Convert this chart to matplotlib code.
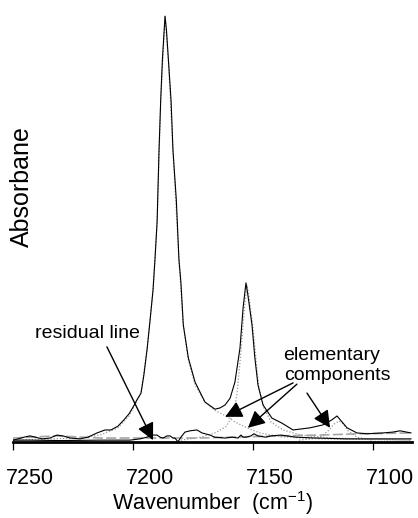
# NIR absorbance spectrum with fitted elementary components and the residual line.
import matplotlib
matplotlib.use("Agg")
import matplotlib.pyplot as plt
from matplotlib.transforms import ScaledTranslation

plt.rcParams["font.family"] = ["Liberation Sans", "DejaVu Sans"]
plt.rcParams["mathtext.default"] = "regular"

# measured spectrum (wavenumber cm-1, absorbance a.u.)
wn = [7250.0, 7247.9, 7245.4, 7242.9, 7240.8, 7237.9, 7234.6, 7231.7, 7229.2, 7226.3,
      7222.1, 7218.8, 7215.0, 7211.7, 7209.2, 7206.3, 7203.8, 7201.7, 7200.0, 7198.4,
      7196.7, 7195.5, 7194.2, 7193.0, 7191.7, 7190.9, 7190.0, 7189.2, 7188.5, 7187.8,
      7187.1, 7186.7, 7186.1, 7185.3, 7184.2, 7183.4, 7182.0, 7180.9, 7180.1, 7179.1,
      7177.0, 7174.2, 7170.1, 7165.9, 7163.8, 7161.7, 7159.6, 7157.6, 7155.5, 7154.2,
      7153.0, 7152.2, 7150.5, 7149.3, 7148.0, 7145.9, 7142.2, 7138.0, 7133.4, 7126.4,
      7120.9, 7117.2, 7115.1, 7113.0, 7110.9, 7106.8, 7102.6, 7096.0, 7091.8, 7088.9,
      7084.3]
absorb = [0.002, 0.005, 0.009, 0.012, 0.009, 0.005, 0.007, 0.014, 0.012, 0.007,
          0.005, 0.009, 0.019, 0.026, 0.026, 0.035, 0.050, 0.064, 0.080, 0.097,
          0.113, 0.156, 0.215, 0.281, 0.356, 0.427, 0.517, 0.686, 0.804, 0.899,
          0.965, 1.002, 0.969, 0.899, 0.804, 0.686, 0.568, 0.427, 0.375, 0.274,
          0.196, 0.139, 0.092, 0.075, 0.078, 0.085, 0.101, 0.139, 0.219, 0.314,
          0.373, 0.344, 0.274, 0.196, 0.132, 0.085, 0.054, 0.042, 0.026, 0.031,
          0.038, 0.050, 0.059, 0.045, 0.031, 0.019, 0.017, 0.019, 0.021, 0.024,
          0.019]

# residual (measured - fit)
res_wn = [7250.0, 7242.9, 7230.4, 7213.8, 7201.3, 7197.1, 7194.2, 7192.1, 7190.0, 7188.8,
          7187.5, 7185.9, 7184.6, 7183.4, 7182.6, 7181.3, 7180.1, 7178.4, 7176.3, 7173.4,
          7171.3, 7168.0, 7166.0, 7161.7, 7158.8, 7156.3, 7155.1, 7154.2, 7153.0, 7150.9,
          7149.7, 7148.0, 7144.7, 7142.6, 7138.4, 7132.2, 7123.9, 7111.4, 7098.9, 7084.3]
res_val = [0.002, 0.002, 0.001, 0.002, 0.002, 0.005, 0.009, 0.014, 0.014, 0.009,
           0.007, 0.012, 0.012, 0.007, 0.007, -0.002, 0.009, 0.021, 0.024, 0.026,
           0.019, 0.014, 0.009, 0.007, 0.009, 0.007, 0.014, 0.009, 0.009, 0.012,
           0.017, 0.012, 0.009, 0.012, 0.014, 0.009, 0.007, 0.005, 0.005, 0.005]

# elementary components of the fit
c1_wn = [7250.0, 7234.6, 7222.1, 7213.8, 7206.3, 7201.7, 7198.4, 7196.7, 7194.2, 7191.7,
         7190.0, 7188.5, 7186.7, 7185.3, 7183.4, 7180.9, 7179.1, 7177.0, 7174.2, 7170.1,
         7165.9, 7161.7, 7157.6, 7152.2, 7147.2, 7138.8, 7122.2, 7084.3]
c1_val = [0.002, 0.005, 0.007, 0.014, 0.031, 0.059, 0.094, 0.113, 0.215, 0.356,
          0.517, 0.804, 1.000, 0.899, 0.686, 0.427, 0.274, 0.191, 0.132, 0.092,
          0.072, 0.060, 0.045, 0.030, 0.019, 0.010, 0.005, 0.002]

c2_wn = [7180.1, 7171.8, 7165.5, 7161.3, 7158.4, 7156.7, 7155.1, 7153.8, 7152.6, 7151.7,
         7150.1, 7148.8, 7147.6, 7145.5, 7142.6, 7137.6, 7130.1, 7117.6, 7084.3]
c2_val = [0.002, 0.009, 0.020, 0.034, 0.062, 0.112, 0.210, 0.304, 0.368, 0.340,
          0.267, 0.191, 0.125, 0.078, 0.045, 0.026, 0.014, 0.007, 0.002]

c3_wn = [7130.9, 7122.6, 7118.4, 7116.3, 7114.2, 7112.5, 7110.5, 7106.7, 7100.5]
c3_val = [0.002, 0.007, 0.026, 0.040, 0.047, 0.040, 0.024, 0.009, 0.002]

base_wn = [7250.0, 7242.9, 7231.7, 7213.8, 7172.2, 7138.8, 7122.2, 7105.5, 7084.3]
base_val = [0.007, 0.009, 0.012, 0.007, 0.007, 0.012, 0.014, 0.017, 0.019]

ticks = [7250, 7200, 7150, 7100]

fig = plt.figure(figsize=(4.18, 5.18), dpi=100)
ax = fig.add_axes([13 / 418, (518 - 441.5) / 518, 398.7 / 418, 431.5 / 518])

ax.plot(base_wn, base_val, color="0.65", lw=1.2, ls=(0, (6, 2)))
for cw, cv in [(c1_wn, c1_val), (c2_wn, c2_val), (c3_wn, c3_val)]:
    ax.plot(cw, cv, color="0.6", lw=0.9, ls=(0, (1, 1.5)))
ax.plot(wn, absorb, color="black", lw=0.8)
ax.plot(res_wn, res_val, color="black", lw=0.8)

ax.set_xlim(7250, 7084)
ax.set_ylim(-0.0012, 1.0165)
for s in ["left", "right", "top"]:
    ax.spines[s].set_visible(False)
ax.spines["bottom"].set_linewidth(2.0)
ax.set_yticks([])
ax.set_xticks(ticks)
ax.tick_params(axis="x", direction="out", length=6, width=0.9, pad=13, labelsize=15.5)
# tick labels sit a little to the right of their ticks in the original
shift = ScaledTranslation(17 / 100, 0, fig.dpi_scale_trans)
for lab in ax.get_xticklabels():
    lab.set_transform(lab.get_transform() + shift)
ax.set_xlabel("Wavenumber  (cm$^{-1}$)", fontsize=15.5, labelpad=0)
fig.text(22 / 418, 1 - 187 / 518, "Absorbane", rotation=90, ha="center", va="center",
         fontsize=18)

arrow = dict(arrowstyle="-|>", color="black", lw=1.0, mutation_scale=26,
             shrinkA=0, shrinkB=0)
ax.text(7218.8, 0.243, "residual line", fontsize=14, ha="center", va="baseline")
ax.annotate("", xy=(7191.7, 0.002), xytext=(7210.9, 0.222), arrowprops=arrow)
ax.text(7137.6, 0.191, "elementary", fontsize=14, ha="left", va="baseline")
ax.text(7137.0, 0.144, "components", fontsize=14, ha="left", va="baseline")
ax.annotate("", xy=(7161.7, 0.057), xytext=(7133.4, 0.137), arrowprops=arrow)
ax.annotate("", xy=(7152.2, 0.031), xytext=(7131.8, 0.134), arrowprops=arrow)
ax.annotate("", xy=(7118.0, 0.031), xytext=(7127.6, 0.113), arrowprops=arrow)

fig.savefig("out.png", dpi=100)
